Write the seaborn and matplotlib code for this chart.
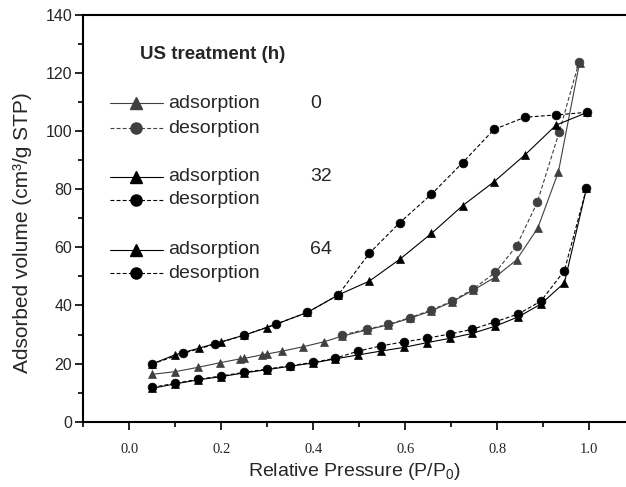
import matplotlib
matplotlib.use("Agg")
import matplotlib.pyplot as plt
import seaborn as sns
import pandas as pd
from matplotlib.lines import Line2D
from matplotlib.ticker import MultipleLocator

# ---- data ----
ads0_x = [0.049, 0.099, 0.149, 0.197, 0.24, 0.25, 0.288, 0.299, 0.333, 0.378, 0.423, 0.462,
          0.516, 0.563, 0.61, 0.656, 0.702, 0.748, 0.795, 0.842, 0.888, 0.933, 0.979]
ads0_y = [16.3, 17.2, 18.7, 20.3, 21.6, 21.8, 23.0, 23.3, 24.3, 25.8, 27.5, 29.4,
          31.6, 33.3, 35.6, 38.1, 41.3, 45.3, 49.7, 55.7, 66.6, 86.0, 123.6]
des0_x = [0.978, 0.935, 0.887, 0.842, 0.796, 0.748, 0.702, 0.656, 0.61, 0.563, 0.516, 0.462]
des0_y = [123.9, 99.8, 75.5, 60.5, 51.4, 45.7, 41.5, 38.4, 35.8, 33.5, 31.8, 29.8]

ads32_x = [0.05, 0.099, 0.151, 0.2, 0.25, 0.299, 0.387, 0.454, 0.522, 0.588, 0.657,
           0.725, 0.793, 0.86, 0.928, 0.996]
ads32_y = [19.9, 23.0, 25.3, 27.5, 29.8, 32.4, 37.6, 43.6, 48.4, 55.9, 64.8,
           74.4, 82.6, 91.8, 102.1, 106.5]
des32_x = [0.996, 0.928, 0.86, 0.793, 0.725, 0.657, 0.588, 0.522, 0.454, 0.387,
           0.319, 0.25, 0.186, 0.117, 0.05]
des32_y = [106.5, 105.6, 104.8, 100.6, 89.2, 78.3, 68.5, 58.0, 43.6, 37.6,
           33.6, 29.8, 26.7, 23.5, 19.9]

ads64_x = [0.05, 0.099, 0.15, 0.199, 0.25, 0.299, 0.35, 0.399, 0.447, 0.498, 0.547,
           0.598, 0.647, 0.697, 0.746, 0.796, 0.846, 0.895, 0.946, 0.994]
ads64_y = [11.5, 13.0, 14.4, 15.5, 16.8, 17.9, 19.1, 20.2, 21.6, 23.0, 24.3,
           25.6, 27.2, 28.7, 30.4, 32.9, 36.1, 40.5, 47.8, 80.3]
des64_x = ads64_x
des64_y = [11.8, 13.2, 14.6, 15.7, 17.0, 18.1, 19.3, 20.4, 21.8, 24.3, 26.1,
           27.5, 28.7, 30.2, 31.8, 34.4, 37.1, 41.5, 52.0, 80.3]

treatments = ["0", "32", "64"]
legend_labels = ["adsorption", "desorption"]
xtick_labels = ["0.0", "0.2", "0.4", "0.6", "0.8", "1.0"]

GRAY = "#404040"
BLACK = "#000000"

sns.set_theme(style="ticks")
plt.rcParams["font.family"] = ["Liberation Sans", "DejaVu Sans"]
plt.rcParams["mathtext.fontset"] = "custom"
plt.rcParams["mathtext.rm"] = "Liberation Sans"
plt.rcParams["mathtext.it"] = "Liberation Sans:italic"

fig = plt.figure(figsize=(6.26, 4.87), dpi=100)
ax = fig.add_axes([0.1331, 0.1341, 0.8669, 0.8351])

series = [
    (ads0_x, ads0_y, GRAY, "^", "-"),
    (des0_x, des0_y, GRAY, "o", "--"),
    (ads32_x, ads32_y, BLACK, "^", "-"),
    (des32_x, des32_y, BLACK, "o", "--"),
    (ads64_x, ads64_y, BLACK, "^", "-"),
    (des64_x, des64_y, BLACK, "o", "--"),
]
for xs, ys, col, mk, ls in series:
    df = pd.DataFrame({"x": xs, "y": ys})
    kw = dict(color=col, marker=mk, markersize=6.3, markeredgewidth=0.5,
              markeredgecolor=col, linewidth=0.8, sort=False, estimator=None, ax=ax)
    if ls == "--":
        kw["dashes"] = (3.5, 2.0)
    sns.lineplot(data=df, x="x", y="y", **kw)

ax.set_xlim(-0.1, 1.08)
ax.set_ylim(0, 140)
ax.xaxis.set_minor_locator(MultipleLocator(0.1))
ax.yaxis.set_major_locator(MultipleLocator(20))
ax.yaxis.set_minor_locator(MultipleLocator(10))
ax.set_xticks([float(t) for t in xtick_labels])
ax.set_xticklabels(xtick_labels, family="Liberation Serif", fontsize=10.5)
ax.tick_params(axis="both", which="major", direction="out", length=6, width=1.2, color="black")
ax.tick_params(axis="both", which="minor", direction="out", length=3.5, width=1.2, color="black")
ax.tick_params(axis="y", labelsize=11.5, pad=2)
ax.tick_params(axis="x", pad=9)
for s in ["left", "bottom", "top"]:
    ax.spines[s].set_linewidth(1.5)
    ax.spines[s].set_color("black")
ax.spines["right"].set_visible(False)

ax.set_xlabel(r"Relative Pressure (P/P$_\mathregular{0}$)", fontsize=14)
ax.set_ylabel("Adsorbed volume (cm³/g STP)", fontsize=15)
ax.xaxis.set_label_coords(0.499, -0.097)
ax.yaxis.set_label_coords(-0.0945, 0.465)

# ---- manual legend ----
def px2ax(px, py):
    return ((px - 83.3) / (626 - 83.3), (421.7 - py) / (421.7 - 15))

ax.text(*px2ax(140, 55), "US treatment (h)", transform=ax.transAxes,
        fontsize=13.5, fontweight="bold", va="center", ha="left")
rows = [(103.3, GRAY, "^", "-", legend_labels[0], treatments[0]),
        (128.3, GRAY, "o", "--", legend_labels[1], None),
        (176.7, BLACK, "^", "-", legend_labels[0], treatments[1]),
        (200.0, BLACK, "o", "--", legend_labels[1], None),
        (250.0, BLACK, "^", "-", legend_labels[0], treatments[2]),
        (273.3, BLACK, "o", "--", legend_labels[1], None)]
for py, col, mk, ls, lab, tr in rows:
    x0, y0 = px2ax(110, py)
    x1, _ = px2ax(163, py)
    xm, _ = px2ax(136, py)
    lkw = dict(color=col, linewidth=0.8, transform=ax.transAxes, clip_on=False)
    if ls == "--":
        lkw["dashes"] = (3.5, 2.0)
    ax.add_line(Line2D([x0, x1], [y0, y0], **lkw))
    ax.add_line(Line2D([xm], [y0], marker=mk, markersize=8, color=col,
                       markeredgecolor=col, linestyle="none",
                       transform=ax.transAxes, clip_on=False))
    ax.text(*px2ax(168, py), lab, transform=ax.transAxes, fontsize=14,
            va="center", ha="left")
    if tr is not None:
        ax.text(*px2ax(310, py), tr, transform=ax.transAxes, fontsize=14,
                va="center", ha="left")

fig.savefig("out.png", dpi=100)
